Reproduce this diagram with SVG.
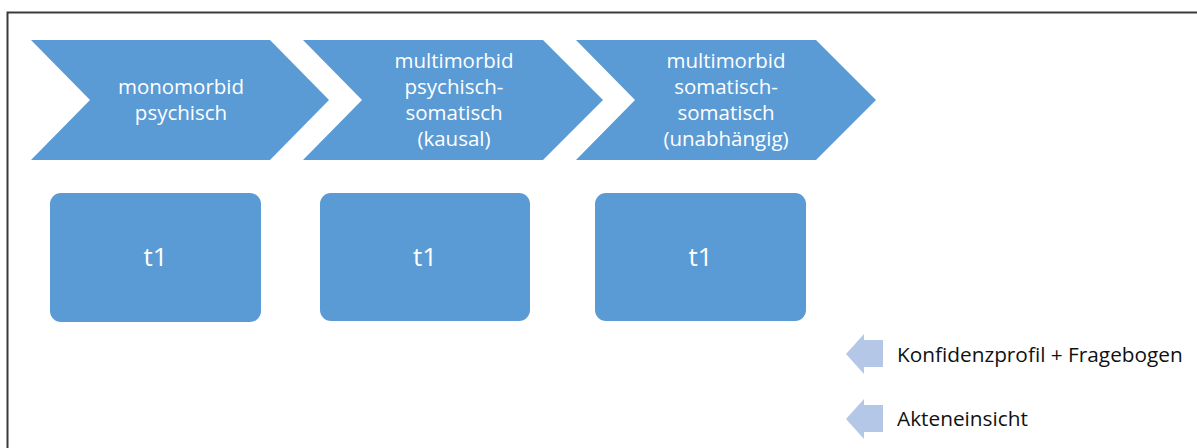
<svg xmlns="http://www.w3.org/2000/svg" width="1197" height="448" viewBox="0 0 1197 448">
<style>
.chev{fill:#5b9bd5}
.box{fill:#5b9bd5}
.arr{fill:#b4c7e7}
.wt{fill:#ffffff;font-family:"Open Sans","Liberation Sans",sans-serif;font-size:20.5px;text-anchor:middle}
.bt{fill:#ffffff;font-family:"Open Sans","Liberation Sans",sans-serif;font-size:26px;text-anchor:middle}
.kt{fill:#111111;font-family:"Open Sans","Liberation Sans",sans-serif;font-size:20.8px}
</style>
<rect x="7.5" y="12.5" width="1250" height="500" fill="none" stroke="#3a3a3a" stroke-width="2"/>
<g id="chevron1">
<polygon class="chev" points="31,40 270,40 329,100 270,160 31,160 90,100"/>
<text class="wt" x="181" y="94">monomorbid</text>
<text class="wt" x="181" y="120">psychisch</text>
</g>
<g id="chevron2">
<polygon class="chev" points="303,40 543,40 603,100 543,160 303,160 362,100"/>
<text class="wt" x="454" y="68">multimorbid</text>
<text class="wt" x="454" y="94">psychisch-</text>
<text class="wt" x="454" y="120">somatisch</text>
<text class="wt" x="454" y="146">(kausal)</text>
</g>
<g id="chevron3">
<polygon class="chev" points="576,40 816,40 876,100 816,160 576,160 635,100"/>
<text class="wt" x="726" y="68">multimorbid</text>
<text class="wt" x="726" y="94">somatisch-</text>
<text class="wt" x="726" y="120">somatisch</text>
<text class="wt" x="726" y="146">(unabhängig)</text>
</g>
<g id="box1">
<rect class="box" x="50" y="193" width="211" height="129" rx="11"/>
<text class="bt" x="155.5" y="266">t1</text>
</g>
<g id="box2">
<rect class="box" x="320" y="193" width="210" height="128" rx="11"/>
<text class="bt" x="425" y="266">t1</text>
</g>
<g id="box3">
<rect class="box" x="595" y="193" width="211" height="128" rx="11"/>
<text class="bt" x="700.5" y="266">t1</text>
</g>
<g id="legend1">
<polygon class="arr" points="846,354 864,334 864,340 883,340 883,367 864,367 864,374"/>
<text class="kt" x="897" y="362">Konfidenzprofil + Fragebogen</text>
</g>
<g id="legend2">
<polygon class="arr" points="846,419 864,399 864,405 883,405 883,432 864,432 864,439"/>
<text class="kt" x="897" y="426">Akteneinsicht</text>
</g>
<g id="connectors"></g>
</svg>
